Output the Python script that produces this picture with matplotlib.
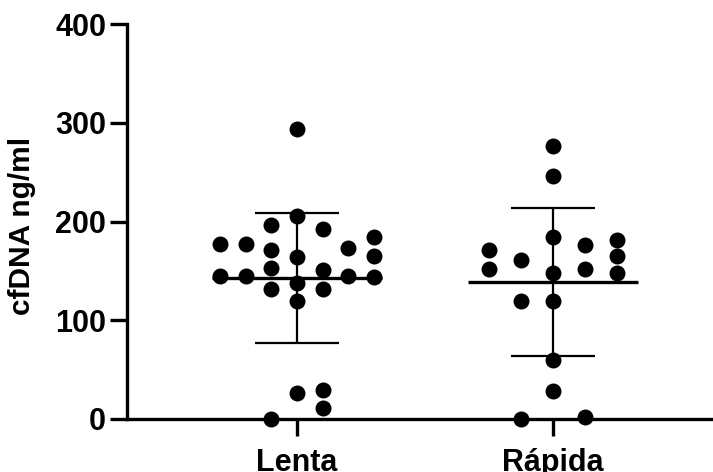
import matplotlib
matplotlib.use('Agg')
import matplotlib.pyplot as plt
import numpy as np

plt.rcParams['font.family'] = ['Liberation Sans', 'DejaVu Sans']
plt.rcParams['font.weight'] = 'bold'

groups = ['Lenta', 'Rápida']

# cfDNA (ng/ml) per patient
lenta = [294, 206, 196, 192, 177, 177, 171, 173, 184, 165, 164, 153, 151,
         145, 145, 145, 144, 138, 132, 132, 120, 26, 29, 11, 0]
rapida = [276, 246, 184, 176, 181, 165, 148, 152, 148, 171, 152, 161, 119,
          120, 60, 28, 0, 2]

# column slot of each dot in the scatter (layout only)
lenta_slot = [0, 0, -1, 1, -3, -2, -1, 2, 3, 3, 0, -1, 1,
              -3, -2, 2, 3, 0, -1, 1, 0, 0, 1, 1, -1]
rapida_slot = [0, 0, 0, 1, 2, 2, 2, 1, 0, -2, -2, -1, -1,
               0, 0, 0, -1, 1]
slot_width = [0.1004, 0.125]

fig = plt.figure(figsize=(7.13, 4.72), dpi=100)
ax = fig.add_axes([127/713, 1 - 419/472, 1 - 127/713, (419 - 24)/472])

for i, (vals, slots) in enumerate(zip([lenta, rapida], [lenta_slot, rapida_slot])):
    pos = i + 1
    vals = np.array(vals, dtype=float)
    x = pos + np.array(slots) * slot_width[i]
    m = vals.mean()
    sd = vals.std(ddof=1)
    ax.hlines(m, pos - 0.332, pos + 0.332, color='black', lw=2.4, zorder=2)
    ax.vlines(pos, m - sd, m + sd, color='black', lw=1.6, zorder=2)
    ax.hlines([m - sd, m + sd], pos - 0.164, pos + 0.164, color='black', lw=1.6, zorder=2)
    ax.plot(x, vals, 'o', color='black', ms=11.5, mew=0, zorder=3, clip_on=False)

ax.set_xlim(0.336, 2.625)
ax.set_ylim(0, 400)
ax.set_xticks([1, 2])
ax.set_xticklabels(groups)
ax.set_yticks([0, 100, 200, 300, 400])
ax.set_ylabel('cfDNA ng/ml', fontsize=21.5, fontweight='bold')
ax.yaxis.set_label_coords(-0.155, 0.49)

for s in ['top', 'right']:
    ax.spines[s].set_visible(False)
for s in ['left', 'bottom']:
    ax.spines[s].set_linewidth(2.4)
ax.tick_params(axis='both', width=2.4, length=12, labelsize=22)
ax.tick_params(axis='y', pad=3)
ax.tick_params(axis='x', pad=9)
for lab in ax.get_xticklabels() + ax.get_yticklabels():
    lab.set_fontweight('bold')

fig.savefig('out.png', dpi=100)
